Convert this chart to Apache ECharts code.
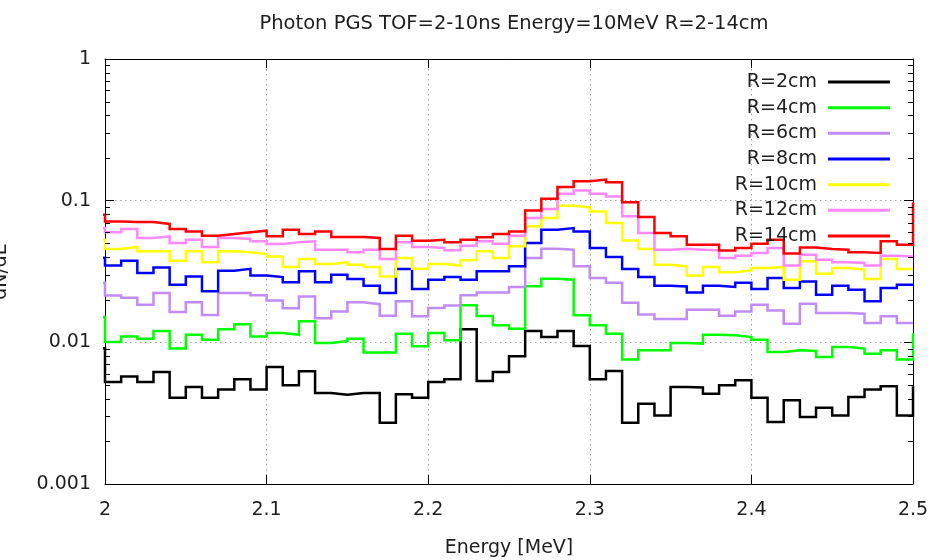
<!DOCTYPE html>
<html>
<head>
<meta charset="utf-8">
<script src="https://cdn.jsdelivr.net/npm/echarts@6/dist/echarts.min.js"></script>
<style>
  html, body { margin: 0; padding: 0; background: #ffffff; }
  #chart { width: 933px; height: 560px; }
</style>
</head>
<body>
<div id="chart"></div>
<script>
// Left edges of the 0.01 MeV energy bins (one extra bin on each side of the 2.0-2.5 window)
const binLowEdges = [
  1.99, 2.00, 2.01, 2.02, 2.03, 2.04, 2.05, 2.06, 2.07, 2.08, 2.09,
  2.10, 2.11, 2.12, 2.13, 2.14, 2.15, 2.16, 2.17, 2.18, 2.19,
  2.20, 2.21, 2.22, 2.23, 2.24, 2.25, 2.26, 2.27, 2.28, 2.29,
  2.30, 2.31, 2.32, 2.33, 2.34, 2.35, 2.36, 2.37, 2.38, 2.39,
  2.40, 2.41, 2.42, 2.43, 2.44, 2.45, 2.46, 2.47, 2.48, 2.49,
  2.50
];

// dN/dE per bin for each radius
const r2cm = [
  0.0091,
  0.00524, 0.00575, 0.00524, 0.00617, 0.00407, 0.00484, 0.00407, 0.00464, 0.00548, 0.00464,
  0.00669, 0.00497, 0.00624, 0.00439, 0.00427, 0.00439, 0.00439, 0.00271, 0.00430, 0.00407,
  0.00524, 0.00548, 0.01235, 0.00533, 0.00617, 0.00796, 0.01200, 0.01090, 0.01200, 0.00942,
  0.00548, 0.00627, 0.00271, 0.00369, 0.00305, 0.00484, 0.00480, 0.00434, 0.00497, 0.00539,
  0.00407, 0.00274, 0.00390, 0.00297, 0.00346, 0.00305, 0.00411, 0.00464, 0.00489, 0.00305,
  0.0049
];
const r4cm = [
  0.0151,
  0.01005, 0.0110, 0.0106, 0.0120, 0.00903, 0.0113, 0.01045, 0.01235, 0.0134, 0.0110,
  0.01163, 0.0113, 0.01407, 0.0099, 0.0102, 0.0106, 0.00846, 0.00846, 0.01152, 0.00937,
  0.01163, 0.01033, 0.01824, 0.01533, 0.01318, 0.01249, 0.02485, 0.02816, 0.0277, 0.0155,
  0.01318, 0.01152, 0.00755, 0.00878, 0.00878, 0.0099, 0.0098, 0.0113, 0.01121, 0.0109,
  0.01045, 0.00854, 0.00878, 0.00868, 0.00788, 0.00927, 0.00903, 0.00832, 0.00878, 0.00755,
  0.0116
];
const r6cm = [
  0.0263,
  0.0214, 0.0206, 0.0184, 0.0223, 0.0164, 0.0192, 0.0156, 0.0223, 0.0223, 0.0215,
  0.0197, 0.0174, 0.0211, 0.0148, 0.0165, 0.0192, 0.0186, 0.0154, 0.0195, 0.0153,
  0.0175, 0.0182, 0.0215, 0.0225, 0.0225, 0.0246, 0.0394, 0.0458, 0.0451, 0.0344,
  0.0285, 0.0263, 0.0190, 0.0157, 0.0146, 0.0146, 0.0170, 0.0170, 0.0154, 0.0165,
  0.0184, 0.0168, 0.0135, 0.0187, 0.0161, 0.0161, 0.0159, 0.0137, 0.0153, 0.0137,
  0.0137
];
const r8cm = [
  0.0396,
  0.0348, 0.0377, 0.0309, 0.0338, 0.0255, 0.0292, 0.0229, 0.0320, 0.0330, 0.0296,
  0.0289, 0.0265, 0.0317, 0.0265, 0.0300, 0.0280, 0.0251, 0.0223, 0.0330, 0.0238,
  0.0277, 0.0289, 0.0277, 0.0317, 0.0317, 0.0344, 0.0503, 0.0624, 0.0641, 0.0607,
  0.0464, 0.0401, 0.0330, 0.0289, 0.0251, 0.0248, 0.0225, 0.0251, 0.0246, 0.0263,
  0.0238, 0.0285, 0.0242, 0.0269, 0.0217, 0.0251, 0.0235, 0.0195, 0.0242, 0.0255,
  0.0255
];
const r10cm = [
  0.0530,
  0.0456, 0.0471, 0.0439, 0.0439, 0.0377, 0.0439, 0.0367, 0.0439, 0.0432, 0.0420,
  0.0404, 0.0340, 0.0388, 0.0357, 0.0367, 0.0353, 0.0340, 0.0292, 0.0394, 0.0331,
  0.0357, 0.0348, 0.0379, 0.0439, 0.0394, 0.0476, 0.0659, 0.0755, 0.0922, 0.0897,
  0.0840, 0.0696, 0.0524, 0.0455, 0.0353, 0.0344, 0.0296, 0.0340, 0.0312, 0.0322,
  0.0335, 0.0340, 0.0277, 0.0373, 0.0305, 0.0335, 0.0326, 0.0280, 0.0388, 0.0330,
  0.0330
];
const r12cm = [
  0.0640,
  0.0598, 0.0631, 0.0545, 0.0560, 0.0503, 0.0530, 0.0471, 0.0545, 0.0537, 0.0516,
  0.0495, 0.0508, 0.0516, 0.0451, 0.0451, 0.0432, 0.0451, 0.0388, 0.0508, 0.0471,
  0.0464, 0.0446, 0.0481, 0.0516, 0.0497, 0.0566, 0.0755, 0.0874, 0.1120, 0.1180,
  0.1120, 0.1070, 0.0775, 0.0592, 0.0451, 0.0458, 0.0451, 0.0446, 0.0394, 0.0409,
  0.0427, 0.0464, 0.0348, 0.0416, 0.0383, 0.0367, 0.0363, 0.0348, 0.0409, 0.0404,
  0.0404
];
const r14cm = [
  0.0796,
  0.0714, 0.0707, 0.0707, 0.0685, 0.0631, 0.0607, 0.0566, 0.0582, 0.0598, 0.0614,
  0.0560, 0.0624, 0.0582, 0.0607, 0.0554, 0.0554, 0.0545, 0.0456, 0.0566, 0.0522,
  0.0530, 0.0508, 0.0530, 0.0551, 0.0582, 0.0607, 0.0854, 0.1030, 0.1250, 0.1370,
  0.1410, 0.1350, 0.0973, 0.0767, 0.0592, 0.0560, 0.0489, 0.0489, 0.0444, 0.0464,
  0.0497, 0.0530, 0.0423, 0.0468, 0.0456, 0.0451, 0.0432, 0.0427, 0.0516, 0.0489,
  0.0970
];

const seriesNames  = ['R=2cm', 'R=4cm', 'R=6cm', 'R=8cm', 'R=10cm', 'R=12cm', 'R=14cm'];
const seriesColors = ['#000000', '#00ff00', '#c28cf8', '#0000ff', '#ffff00', '#ff88ff', '#ff0000'];
const seriesValues = [r2cm, r4cm, r6cm, r8cm, r10cm, r12cm, r14cm];

const xTickLabels = ['2', '2.1', '2.2', '2.3', '2.4', '2.5'];
const yTickLabels = ['0.001', '0.01', '0.1', '1'];
// log-decade minor tick positions (2..9 in each decade)
const yMinorTicks = [
  0.002, 0.003, 0.004, 0.005, 0.006, 0.007, 0.008, 0.009,
  0.02, 0.03, 0.04, 0.05, 0.06, 0.07, 0.08, 0.09,
  0.2, 0.3, 0.4, 0.5, 0.6, 0.7, 0.8, 0.9
];

const X_MIN = 2.0, X_MAX = 2.5;
const FONT = 'DejaVu Sans';
const TEXT_COLOR = '#1e1e1e';

const chart = echarts.init(document.getElementById('chart'), null, { renderer: 'canvas' });

const histSeries = seriesNames.map((name, k) => ({
  name: name,
  type: 'line',
  step: 'end',
  symbol: 'none',
  showSymbol: false,
  animation: false,
  clip: true,
  color: seriesColors[k],
  lineStyle: { color: seriesColors[k], width: 2.5, join: 'miter' },
  data: binLowEdges.map((x, i) => [x, seriesValues[k][i]]),
  z: 3
}));

const minorTickSeries = {
  name: 'yMinorTicks',
  type: 'custom',
  silent: true,
  animation: false,
  clip: false,
  z: 6,
  data: yMinorTicks.map(v => [X_MIN, v]),
  renderItem: function (params, api) {
    const v = api.value(1);
    const l = api.coord([X_MIN, v]);
    const r = api.coord([X_MAX, v]);
    const y = Math.round(l[1]) + 0.5;
    return {
      type: 'group',
      children: [
        { type: 'line', shape: { x1: l[0], y1: y, x2: l[0] + 5, y2: y }, style: { stroke: '#000', lineWidth: 1 } },
        { type: 'line', shape: { x1: r[0], y1: y, x2: r[0] - 5, y2: y }, style: { stroke: '#000', lineWidth: 1 } }
      ]
    };
  }
};

const gridDash = { color: '#a0a0a0', width: 1, type: [1.5, 3.5] };
const xLabelFmt = v => xTickLabels[Math.round((v - X_MIN) / 0.1)];
const yLabelFmt = v => yTickLabels[Math.round(Math.log10(v)) + 3];

const option = {
  backgroundColor: '#ffffff',
  animation: false,
  textStyle: { fontFamily: FONT },
  title: {
    text: 'Photon PGS TOF=2-10ns Energy=10MeV R=2-14cm',
    left: 509,
    textAlign: 'center',
    top: 9,
    textStyle: { fontFamily: FONT, fontSize: 19.5, fontWeight: 'normal', color: TEXT_COLOR }
  },
  grid: { left: 105, right: 20, top: 59, bottom: 76, containLabel: false, outerBoundsMode: 'none' },
  legend: {
    data: seriesNames,
    orient: 'vertical',
    align: 'right',
    right: 43,
    top: 72,
    padding: 0,
    itemGap: 5.67,
    itemWidth: 62,
    itemHeight: 3,
    icon: 'rect',
    selectedMode: false,
    textStyle: { fontFamily: FONT, fontSize: 19, color: TEXT_COLOR, lineHeight: 20, padding: [0, 6, 0, 0] }
  },
  xAxis: [
    {
      type: 'value',
      min: X_MIN, max: X_MAX, interval: 0.1,
      name: 'Energy [MeV]',
      nameLocation: 'middle',
      nameGap: 55,
      nameTextStyle: { fontFamily: FONT, fontSize: 19, color: TEXT_COLOR },
      axisLine: { show: true, onZero: false, lineStyle: { color: '#000', width: 1 } },
      axisTick: { show: true, inside: true, length: 9, lineStyle: { color: '#000', width: 1 } },
      axisLabel: { show: true, margin: 17, formatter: xLabelFmt, fontFamily: FONT, fontSize: 19, color: TEXT_COLOR },
      splitLine: { show: true, lineStyle: gridDash }
    },
    {
      type: 'value',
      position: 'top',
      min: X_MIN, max: X_MAX, interval: 0.1,
      axisLine: { show: true, onZero: false, lineStyle: { color: '#000', width: 1 } },
      axisTick: { show: true, inside: true, length: 9, lineStyle: { color: '#000', width: 1 } },
      axisLabel: { show: false },
      splitLine: { show: false }
    }
  ],
  yAxis: [
    {
      type: 'log',
      logBase: 10,
      min: 0.001, max: 1,
      name: 'dN/dE',
      nameLocation: 'middle',
      nameRotate: 90,
      nameGap: 94,
      nameTextStyle: { fontFamily: FONT, fontSize: 19, color: TEXT_COLOR },
      axisLine: { show: true, onZero: false, lineStyle: { color: '#000', width: 1 } },
      axisTick: { show: true, inside: true, length: 9, lineStyle: { color: '#000', width: 1 } },
      axisLabel: { show: true, margin: 14, formatter: yLabelFmt, fontFamily: FONT, fontSize: 19, color: TEXT_COLOR },
      splitLine: { show: true, lineStyle: gridDash }
    },
    {
      type: 'log',
      logBase: 10,
      position: 'right',
      min: 0.001, max: 1,
      axisLine: { show: true, onZero: false, lineStyle: { color: '#000', width: 1 } },
      axisTick: { show: true, inside: true, length: 9, lineStyle: { color: '#000', width: 1 } },
      axisLabel: { show: false },
      splitLine: { show: false }
    }
  ],
  series: histSeries.concat([minorTickSeries])
};

chart.setOption(option);
</script>
</body>
</html>
